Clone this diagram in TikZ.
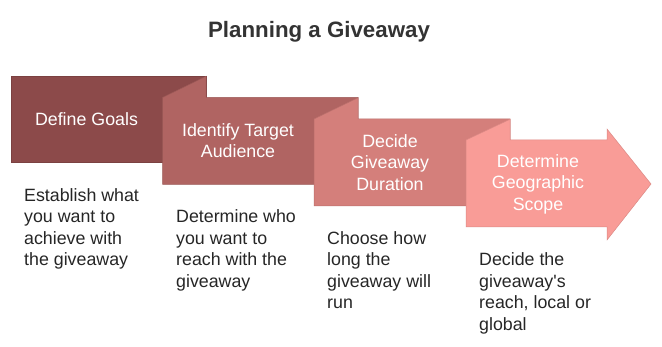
\documentclass[tikz,border=0pt]{standalone}
\usepackage{fontspec}
\setmainfont{Liberation Sans}
\usepackage{xcolor}
\usetikzlibrary{positioning,calc}

\definecolor{stepA}{HTML}{8C4A4A}
\definecolor{stepB}{HTML}{B06462}
\definecolor{stepC}{HTML}{D47F7B}
\definecolor{stepD}{HTML}{F99C97}
\definecolor{bodytext}{HTML}{262626}

\begin{document}
\begin{tikzpicture}[
    x=1pt, y=-1pt,
    every node/.style={font=\fontsize{17.8}{21.5}\selectfont, inner sep=0pt},
    stagebox/.style={draw=#1!88!black, line width=0.5pt, fill=#1},
    stagelabel/.style={white, align=center},
    desc/.style={bodytext, align=left, anchor=base west},
    heading/.style={font=\fontsize{22.3}{26}\selectfont\bfseries, text=black!80},
]
\useasboundingbox (0,0) rectangle (662,347);

% =====================================================================
% Title
% =====================================================================
\node[heading, anchor=base] (title) at (319,38) {Planning a Giveaway};

% =====================================================================
% Staircase of steps, each one tucked under the previous with a slant
% =====================================================================
\draw[stagebox=stepA] (11,76) rectangle (206,162);
\draw[stagebox=stepB] (162.5,97.5) -- (206,76.3) -- (206,97.5) -- (358,97.5)
    -- (358,184.5) -- (162.5,184.5) -- cycle;
\draw[stagebox=stepC] (314,119) -- (358,97.8) -- (358,119) -- (510,119)
    -- (510,206) -- (314,206) -- cycle;

% last step ends in an arrow head
\draw[stagebox=stepD] (466,140) -- (510,119.3) -- (510,140) -- (607,140)
    -- (607,129) -- (651,184) -- (607,240) -- (607,227) -- (466,227) -- cycle;

% Step labels
\node[stagelabel] (goals) at (86.5,119) {Define Goals};
\node[stagelabel] (audience) at (238,140.5) {Identify Target\\Audience};
\node[stagelabel] (duration) at (390,162.5) {Decide\\Giveaway\\Duration};
\node[stagelabel] (scope) at (538,184) {Determine\\Geographic\\Scope};

% =====================================================================
% Descriptions under each step (anchored on their last line)
% =====================================================================
\node[desc] (goalsdesc) at (24,266)
    {Establish what\\you want to\\achieve with\\the giveaway};
\node[desc] (audiencedesc) at (176,287.5)
    {Determine who\\you want to\\reach with the\\giveaway};
\node[desc] (durationdesc) at (327,309)
    {Choose how\\long the\\giveaway will\\run};
\node[desc] (scopedesc) at (479,330.5)
    {Decide the\\giveaway\textquotesingle s\\reach, local or\\global};

\end{tikzpicture}
\end{document}
